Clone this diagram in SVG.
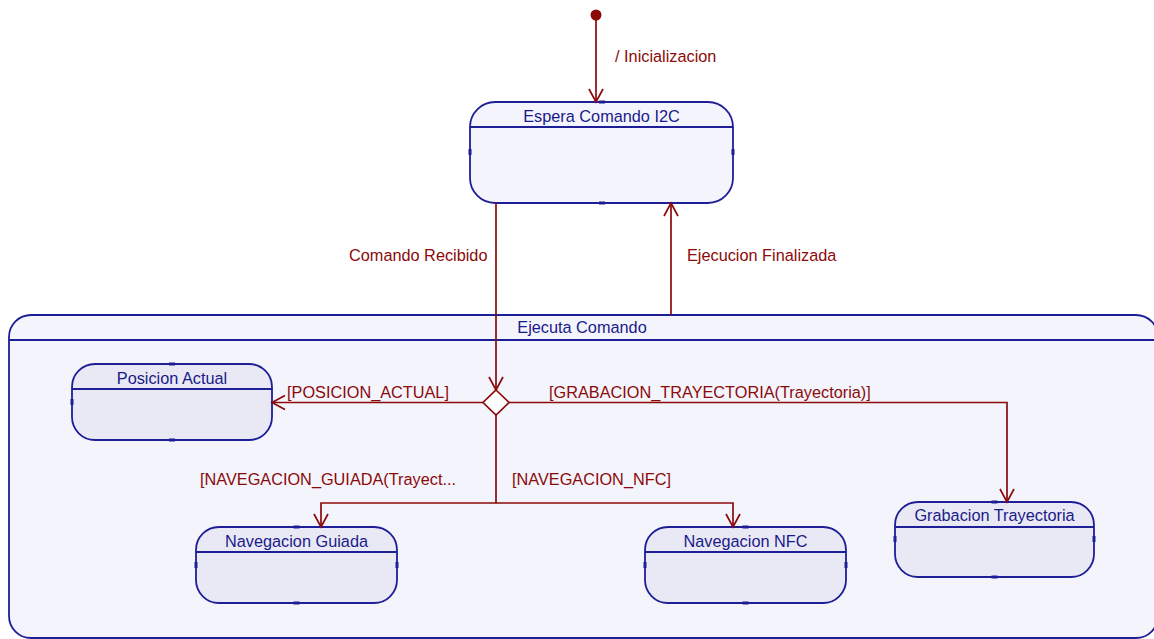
<svg xmlns="http://www.w3.org/2000/svg" width="1154" height="639" viewBox="0 0 1154 639">
  <style>
    .state { fill: #f4f4fd; stroke: #1e1e96; stroke-width: 1.8; }
    .sub { fill: #e9e9f5; stroke: #1e1e96; stroke-width: 1.8; }
    .div { stroke: #1e1e96; stroke-width: 1.8; fill: none; }
    .port { fill: #1e1e96; }
    .name { font-family: "Liberation Sans", Arial, sans-serif; font-size: 16.3px; fill: #1a1a8a; text-anchor: middle; }
    .lbl { font-family: "Liberation Sans", Arial, sans-serif; font-size: 16.3px; fill: #8b0a0a; }
    .edge { stroke: #8b0a0a; stroke-width: 1.7; fill: none; }
  </style>
  <defs>
    <marker id="open" markerWidth="18" markerHeight="18" refX="14" refY="8" orient="auto" markerUnits="userSpaceOnUse">
      <path d="M1,1 L14,8 L1,15" fill="none" stroke="#8b0a0a" stroke-width="1.7"/>
    </marker>
  </defs>

  <rect width="1154" height="639" fill="#ffffff"/>

  <!-- composite state -->
  <g id="ejecuta-comando">
    <rect class="state" x="9" y="315" width="1149" height="323" rx="22"/>
    <line class="div" x1="9" y1="340" x2="1158" y2="340"/>
    <text class="name" x="582" y="333">Ejecuta Comando</text>
  </g>

  <g id="initial">
    <circle cx="596" cy="15" r="5.5" fill="#8b0a0a"/>
  </g>

  <g id="espera-comando">
    <rect class="state" x="470" y="102" width="263" height="101" rx="25"/>
    <line class="div" x1="470" y1="127" x2="733" y2="127"/>
    <text class="name" x="601.5" y="122">Espera Comando I2C</text>
    <rect class="port" x="599" y="100.5" width="6" height="3"/>
    <rect class="port" x="599" y="201.5" width="6" height="3"/>
    <rect class="port" x="468.5" y="149" width="3" height="6"/>
    <rect class="port" x="731.5" y="149" width="3" height="6"/>
  </g>

  <g id="posicion-actual">
    <rect class="sub" x="72" y="364" width="200" height="76" rx="23"/>
    <line class="div" x1="72" y1="389" x2="272" y2="389"/>
    <text class="name" x="172" y="384">Posicion Actual</text>
    <rect class="port" x="169" y="362.5" width="6" height="3"/>
    <rect class="port" x="169" y="438.5" width="6" height="3"/>
    <rect class="port" x="70.5" y="399" width="3" height="6"/>
  </g>

  <g id="navegacion-guiada">
    <rect class="sub" x="196" y="527" width="201" height="76" rx="23"/>
    <line class="div" x1="196" y1="552" x2="397" y2="552"/>
    <text class="name" x="296.5" y="547">Navegacion Guiada</text>
    <rect class="port" x="293.5" y="525.5" width="6" height="3"/>
    <rect class="port" x="293.5" y="601.5" width="6" height="3"/>
    <rect class="port" x="194.5" y="562" width="3" height="6"/>
    <rect class="port" x="395.5" y="562" width="3" height="6"/>
  </g>

  <g id="navegacion-nfc">
    <rect class="sub" x="645" y="527" width="201" height="76" rx="23"/>
    <line class="div" x1="645" y1="552" x2="846" y2="552"/>
    <text class="name" x="745.5" y="547">Navegacion NFC</text>
    <rect class="port" x="742.5" y="525.5" width="6" height="3"/>
    <rect class="port" x="742.5" y="601.5" width="6" height="3"/>
    <rect class="port" x="643.5" y="562" width="3" height="6"/>
    <rect class="port" x="844.5" y="562" width="3" height="6"/>
  </g>

  <g id="grabacion-trayectoria">
    <rect class="sub" x="895" y="502" width="199" height="75" rx="23"/>
    <line class="div" x1="895" y1="527" x2="1094" y2="527"/>
    <text class="name" x="994.5" y="521">Grabacion Trayectoria</text>
    <rect class="port" x="991.5" y="500.5" width="6" height="3"/>
    <rect class="port" x="991.5" y="575.5" width="6" height="3"/>
    <rect class="port" x="893.5" y="536" width="3" height="6"/>
    <rect class="port" x="1092.5" y="536" width="3" height="6"/>
  </g>

  <g id="connectors">
    <line class="edge" x1="596" y1="20" x2="596" y2="102" marker-end="url(#open)"/>
    <line class="edge" x1="496" y1="203" x2="496" y2="390" marker-end="url(#open)"/>
    <line class="edge" x1="671" y1="315" x2="671" y2="203" marker-end="url(#open)"/>
    <line class="edge" x1="483" y1="402.5" x2="272" y2="402.5" marker-end="url(#open)"/>
    <polyline class="edge" points="509,402.5 1007,402.5 1007,502" marker-end="url(#open)"/>
    <line class="edge" x1="496" y1="415" x2="496" y2="503"/>
    <polyline class="edge" points="496,503 321,503 321,527" marker-end="url(#open)"/>
    <polyline class="edge" points="496,503 733,503 733,527" marker-end="url(#open)"/>
  </g>

  <g id="choice">
    <polygon points="496,390 509,402.5 496,415 483,402.5" fill="#ffffff" stroke="#8b0a0a" stroke-width="1.7"/>
  </g>

  <g id="labels">
    <text class="lbl" x="615" y="62">/ Inicializacion</text>
    <text class="lbl" x="349" y="261">Comando Recibido</text>
    <text class="lbl" x="687" y="261">Ejecucion Finalizada</text>
    <text class="lbl" x="287" y="398">[POSICION_ACTUAL]</text>
    <text class="lbl" x="549" y="398">[GRABACION_TRAYECTORIA(Trayectoria)]</text>
    <text class="lbl" x="200" y="485">[NAVEGACION_GUIADA(Trayect...</text>
    <text class="lbl" x="512" y="485">[NAVEGACION_NFC]</text>
  </g>
</svg>
